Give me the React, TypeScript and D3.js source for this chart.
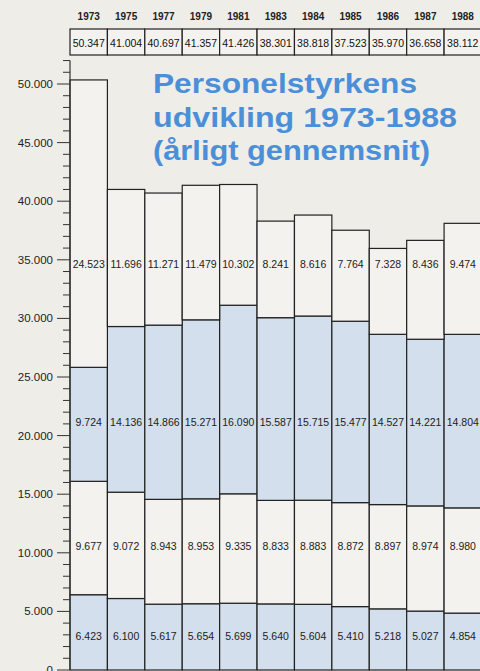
import React from "react";
import * as d3 from "d3";

const years = ["1973", "1975", "1977", "1979", "1981", "1983", "1984", "1985", "1986", "1987", "1988"];
const seg1 = [6423, 6100, 5617, 5654, 5699, 5640, 5604, 5410, 5218, 5027, 4854];
const seg2 = [9677, 9072, 8943, 8953, 9335, 8833, 8883, 8872, 8897, 8974, 8980];
const seg3 = [9724, 14136, 14866, 15271, 16090, 15587, 15715, 15477, 14527, 14221, 14804];
const seg4 = [24523, 11696, 11271, 11479, 10302, 8241, 8616, 7764, 7328, 8436, 9474];
const totals = [50347, 41004, 40697, 41357, 41426, 38301, 38818, 37523, 35970, 36658, 38112];
const labelRows = [2900, 10600, 21200, 34600];
const majorTicks = [0, 5000, 10000, 15000, 20000, 25000, 30000, 35000, 40000, 45000, 50000];
const titleLines = ["Personelstyrkens", "udvikling 1973-1988", "(årligt gennemsnit)"];

const W = 480, H = 671;
const fmt3 = (v: number) => (v / 1000).toFixed(3);
const fmtTick = (v: number) => (v === 0 ? "0" : fmt3(v));

export default function App() {
  const y = d3.scaleLinear().domain([0, 50000]).range([670, 84]);
  const x = d3.scaleBand<string>().domain(years).range([70, 481.5]).padding(0);
  const series = [seg1, seg2, seg3, seg4];
  const fills = ["#d3dfec", "#f4f2ee", "#d3dfec", "#f4f2ee"];
  const rows = years.map((yr, i) => ({ yr, s: [seg1[i], seg2[i], seg3[i], seg4[i]] }));
  const stack = d3.stack<any, any>().keys([0, 1, 2, 3]).value((d: any, k: number) => d.s[k])(rows as any);
  const minor = d3.range(0, 52001, 1000);
  const font = "'Liberation Sans', Arial, Helvetica, sans-serif";
  const bw = x.bandwidth();
  const titleLens = [264, 304, 277];
  return (
    <svg width={W} height={H} style={{ position: "absolute", left: 0, top: 0, background: "#efede8" }} fontFamily={font}>
      <rect x={0} y={0} width={W} height={H} fill="#efede8" />
      {/* table */}
      {years.map((yr, i) => (
        <g key={yr}>
          <text x={(x(yr) as number) + bw / 2} y={20} textAnchor="middle" fontSize={10} fontWeight="bold" fill="#222">{yr}</text>
          <rect x={x(yr)} y={29} width={bw} height={26} fill="#f4f2ee" stroke="#222" strokeWidth={1.2} />
          <text x={(x(yr) as number) + bw / 2} y={47} textAnchor="middle" fontSize={10.5} fill="#111">{fmt3(totals[i])}</text>
        </g>
      ))}
      {/* bars */}
      {stack.map((layer, k) => (
        <g key={k}>
          {layer.map((d, i) => (
            <rect key={i} x={x(years[i])} y={y(d[1])} width={bw} height={y(d[0]) - y(d[1])} fill={fills[k]} stroke="#222" strokeWidth={1.2} />
          ))}
        </g>
      ))}
      {/* labels */}
      {series.map((s, k) => (
        <g key={k}>
          {s.map((v, i) => (
            <text key={i} x={(x(years[i]) as number) + bw / 2} y={y(labelRows[k]) + 4} textAnchor="middle" fontSize={10.5} fill="#222">{fmt3(v)}</text>
          ))}
        </g>
      ))}
      {/* axis */}
      <line x1={70} x2={70} y1={y(52000)} y2={670} stroke="#333" strokeWidth={1.2} />
      {minor.map((t) => (
        <line key={t} x1={majorTicks.includes(t) ? 57 : 63} x2={70} y1={y(t)} y2={y(t)} stroke="#333" strokeWidth={1} />
      ))}
      {majorTicks.map((t) => (
        <text key={t} x={53} y={y(t) + 4} textAnchor="end" fontSize={11.5} fill="#222">{fmtTick(t)}</text>
      ))}
      {/* title */}
      {titleLines.map((l, i) => (
        <text key={i} x={153} y={93 + i * 33.5} fontSize={28} fontWeight="bold" fill="#4a8fd8" textLength={titleLens[i]} lengthAdjust="spacingAndGlyphs">{l}</text>
      ))}
    </svg>
  );
}
